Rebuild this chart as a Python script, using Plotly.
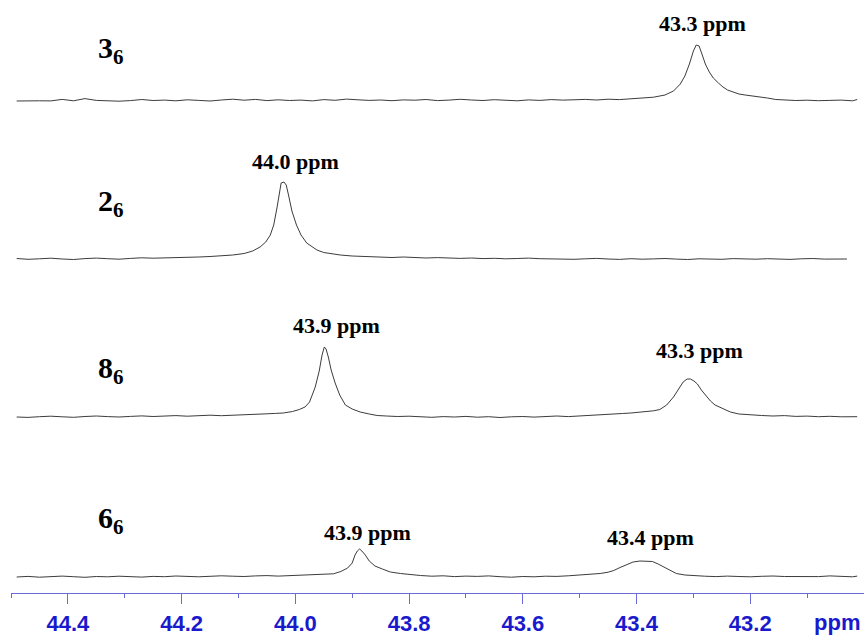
import plotly.graph_objects as go

# ---------------- data ----------------
# chemical shift axis
tick_vals = [44.4, 44.2, 44.0, 43.8, 43.6, 43.4, 43.2]
tick_text = ["44.4", "44.2", "44.0", "43.8", "43.6", "43.4", "43.2"]
minor_vals = [44.5, 44.3, 44.1, 43.9, 43.7, 43.5, 43.3, 43.1]

# spectrum 3_6
ppm_3 = [44.49, 44.47, 44.45, 44.43, 44.41, 44.39, 44.37, 44.35, 44.33, 44.31,
         44.29, 44.27, 44.25, 44.23, 44.21, 44.19, 44.17, 44.15, 44.13, 44.11,
         44.09, 44.07, 44.05, 44.03, 44.01, 43.99, 43.97, 43.95, 43.93, 43.91,
         43.89, 43.87, 43.85, 43.83, 43.81, 43.79, 43.77, 43.75, 43.73, 43.71,
         43.69, 43.67, 43.65, 43.63, 43.61, 43.59, 43.57, 43.55, 43.53, 43.51,
         43.49, 43.47, 43.45, 43.43, 43.41,
         43.39, 43.37, 43.35,
         43.335, 43.323, 43.315, 43.307, 43.300, 43.295, 43.290, 43.285, 43.279, 43.272,
         43.265, 43.256, 43.248, 43.240, 43.230, 43.220, 43.209, 43.195, 43.182, 43.170, 43.155,
         43.14, 43.12, 43.10, 43.08, 43.06, 43.04, 43.02, 43.012]
int_3 = [0.0, 0.3, 0.2, 0.1, 1.6, 0.2, 2.4, 0.6, 0.3, -0.2,
         0.4, 1.5, 0.5, 0.9, 0.2, 1.2, 0.6, 0.0, 1.0, 1.8,
         0.8, 1.6, 0.4, 1.2, 0.5, 0.9, 0.1, 1.4, 0.7, 1.9,
         1.2, 0.6, 1.0, 0.3, 1.1, 0.8, 1.5, 0.4, 0.9, 1.7,
         1.0, 0.5, 1.3, 0.8, 0.2, 1.1, 0.6, 1.4, 0.9, 1.2,
         1.6, 1.0, 1.8, 1.4, 2.2,
         3.0, 3.8, 6.0,
         10, 17, 25, 37, 50, 56, 55, 47, 37, 29,
         23, 18, 14, 11, 9, 7, 6, 5, 4.5, 3, 1.5,
         1.0, 0.5, 0.8, 0.3, 0.6, 0.9, 0.2, 1.5]

# spectrum 2_6
ppm_2 = [44.49, 44.47, 44.45, 44.43, 44.41, 44.39, 44.37, 44.35, 44.33, 44.31,
         44.29, 44.27, 44.25, 44.23, 44.21, 44.19,
         44.17, 44.15, 44.13, 44.11, 44.09, 44.075, 44.062, 44.052, 44.044, 44.038,
         44.032, 44.028, 44.025, 44.020, 44.016, 44.012, 44.006, 43.998, 43.990, 43.980,
         43.970, 43.962, 43.950, 43.935, 43.921, 43.900, 43.880, 43.863,
         43.85, 43.83, 43.81, 43.79, 43.77, 43.75, 43.73, 43.71, 43.69, 43.67,
         43.65, 43.63, 43.61, 43.59, 43.57, 43.55, 43.53, 43.51, 43.49, 43.47,
         43.45, 43.43, 43.41, 43.39, 43.37, 43.35, 43.33, 43.31, 43.29, 43.27,
         43.25, 43.23, 43.21, 43.19, 43.17, 43.15, 43.13, 43.11, 43.09, 43.07,
         43.05, 43.03]
int_2 = [0.5, -0.3, 0.2, 0.8, 0.0, -0.5, 0.4, 0.9, 0.3, -0.2,
         0.6, 1.2, 0.8, 1.0, 1.6, 1.3,
         2.0, 2.5, 3.2, 4.0, 5.5, 8.0, 12, 17, 24, 34,
         52, 66, 76, 77, 74, 64, 48, 34, 24, 16,
         12, 9, 6.5, 5, 4, 3, 2.5, 2,
         1.8, 1.5, 2.0, 1.2, 1.0, 1.4, 0.8, 0.6, 1.0, 0.4,
         0.7, 0.2, 0.5, 0.9, 0.3, 0.0, 0.4, -0.3, 0.2, 0.6,
         0.0, -0.4, 0.3, -0.2, 0.1, 0.5, -0.1, -0.5, 0.2, 0.0,
         -0.3, 0.4, 0.1, -0.2, 0.3, 0.0, -0.4, 0.2, 0.5, -0.1,
         0.3, 0.0]

# spectrum 8_6
ppm_8 = [44.49, 44.47, 44.45, 44.43, 44.41, 44.39, 44.37, 44.35, 44.33, 44.31,
         44.29, 44.27, 44.25, 44.23, 44.21, 44.19, 44.17, 44.15, 44.13, 44.11, 44.09,
         44.07, 44.05, 44.035, 44.021, 44.005, 43.993, 43.983, 43.975, 43.965, 43.958,
         43.953, 43.949, 43.946, 43.942, 43.937, 43.930, 43.922, 43.912, 43.900, 43.886,
         43.870, 43.856,
         43.84, 43.82, 43.80, 43.78, 43.76, 43.74, 43.72, 43.70, 43.68, 43.66,
         43.64, 43.62, 43.60, 43.58, 43.56, 43.54, 43.52, 43.50, 43.48, 43.46, 43.44,
         43.425, 43.41, 43.395, 43.38, 43.37, 43.359, 43.347, 43.335, 43.326, 43.318,
         43.311, 43.305, 43.299, 43.293, 43.286, 43.279, 43.270, 43.262, 43.248, 43.235,
         43.220, 43.200,
         43.18, 43.16, 43.14, 43.12, 43.10, 43.08, 43.06, 43.04, 43.02, 43.012]
int_8 = [0.0, -0.4, 0.3, 0.8, 0.2, -0.3, 0.5, 1.0, 0.4, 0.0,
         0.6, 1.1, 0.5, 0.9, 1.4, 0.8, 1.2, 1.8, 1.3, 1.6, 2.2,
         2.8, 3.2, 3.6, 4.0, 5.5, 7.5, 10, 15, 30, 46,
         62, 70, 68, 60, 47, 34, 22, 12, 8, 5,
         3, 1.5,
         1.0, 0.5, 0.8, 0.2, -0.3, 0.4, 0.0, 0.6, -0.2, 0.3,
         -0.5, 0.2, 0.5, -0.1, 0.6, 1.0, 0.4, 1.2, 1.6, 2.3, 3.0,
         3.5, 4.0, 4.8, 5.5, 6.2, 7.5, 12, 20, 28, 35,
         38, 38, 36, 33, 27, 22, 16, 12, 8, 5,
         3, 2,
         1.5, 1.0, 1.4, 0.6, 0.9, 0.3, 0.7, 0.2, 0.5, 0.3]

# spectrum 6_6
ppm_6 = [44.49, 44.47, 44.45, 44.43, 44.41, 44.39, 44.37, 44.35, 44.33, 44.31,
         44.29, 44.27, 44.25, 44.23, 44.21, 44.19, 44.17, 44.15, 44.13, 44.11,
         44.09, 44.07, 44.05, 44.03, 44.01,
         43.99, 43.97, 43.95, 43.933, 43.920, 43.908, 43.900, 43.895, 43.891, 43.887,
         43.883, 43.877, 43.870, 43.860, 43.847, 43.833, 43.815, 43.798,
         43.78, 43.76, 43.74, 43.72, 43.70, 43.68, 43.66, 43.64, 43.62, 43.60,
         43.58, 43.56, 43.54, 43.52, 43.50, 43.48,
         43.464, 43.45, 43.44, 43.429, 43.418, 43.406, 43.394, 43.381, 43.372, 43.362,
         43.352, 43.341, 43.330, 43.315, 43.300,
         43.28, 43.26, 43.24, 43.22, 43.20, 43.18, 43.16, 43.14, 43.12, 43.10,
         43.08, 43.06, 43.04, 43.02, 43.012]
int_6 = [0.0, 0.6, -0.2, 0.4, 0.9, 0.3, -0.3, 0.5, 0.2, 0.8,
         0.4, -0.1, 0.6, 0.3, 1.0, 0.5, 0.2, 0.7, 1.2, 0.8,
         0.5, 1.1, 1.4, 0.9, 1.3,
         1.4, 2.0, 2.6, 3.2, 5.5, 9, 14, 22, 26, 28,
         26, 22, 16, 11, 8, 5, 3.5, 2.2,
         1.5, 0.8, 1.2, 0.4, 0.9, 0.6, 1.1, 0.3, -0.2, 0.5,
         0.2, 0.8, 0.6, 1.2, 1.8, 2.5,
         3.5, 4.8, 6.5, 9.5, 12.5, 15, 16, 16, 15.5, 13,
         10, 6, 3.5, 2, 1.2,
         0.8, 0.4, 0.9, 0.5, 0.2, 0.7, 1.0, 0.5, 0.3, 0.8,
         0.4, 1.1, 0.6, 0.2, 0.9]

series_names = ["3<sub>6</sub>", "2<sub>6</sub>", "8<sub>6</sub>", "6<sub>6</sub>"]
series_ppm = [ppm_3, ppm_2, ppm_8, ppm_6]
series_int = [int_3, int_2, int_8, int_6]

peak_labels = ["43.3 ppm", "44.0 ppm", "43.9 ppm", "43.3 ppm", "43.9 ppm", "43.4 ppm"]
peak_ppm = [43.284, 44.000, 43.928, 43.289, 43.873, 43.375]

# ---------------- layout constants ----------------
W, H = 864, 635
ML, MB = 11, 42
PH = H - MB                       # plot height in px (y data == px from bottom)
offsets = [492, 334, 176, 16]     # vertical stacking of spectra
label_y = [543, 390, 223, 73]     # y of the series labels
peak_label_y = [570, 432, 268, 243, 61, 56]

fig = go.Figure()
for k in range(4):
    fig.add_trace(go.Scatter(
        x=series_ppm[k],
        y=[v + offsets[k] for v in series_int[k]],
        mode="lines",
        line=dict(color="#3c3c3c", width=1),
        hoverinfo="skip",
        showlegend=False,
    ))

annotations = []
for k in range(4):
    annotations.append(dict(
        x=(96 - ML) / (W - ML), xref="paper", xanchor="left",
        y=label_y[k], yref="y", yanchor="middle",
        text="<b>" + series_names[k] + "</b>", showarrow=False,
        font=dict(family="Liberation Serif, Times New Roman, serif", size=30, color="black"),
    ))
for i in range(len(peak_labels)):
    annotations.append(dict(
        x=peak_ppm[i], xref="x", xanchor="center",
        y=peak_label_y[i], yref="y", yanchor="middle",
        text="<b>" + peak_labels[i] + "</b>", showarrow=False,
        font=dict(family="Liberation Serif, Times New Roman, serif", size=22, color="black"),
    ))
annotations.append(dict(
    x=(862 - ML) / (W - ML), xref="paper", xanchor="right",
    y=-(622 - PH) / PH, yref="paper", yanchor="middle",
    text="<b>ppm</b>", showarrow=False,
    font=dict(family="Liberation Sans, Arial, sans-serif", size=22, color="#1a1acd"),
))

fig.update_layout(
    width=W, height=H,
    margin=dict(l=ML, r=0, t=0, b=MB),
    paper_bgcolor="white", plot_bgcolor="white",
    xaxis=dict(
        range=[44.5, 43.0], showgrid=False, zeroline=False,
        showline=True, linecolor="#6a6ad8", linewidth=1,
        ticks="outside", ticklen=10, tickwidth=1, tickcolor="#6a6ad8",
        tickvals=tick_vals, ticktext=tick_text,
        ticklabelstandoff=1,
        tickfont=dict(family="Liberation Sans, Arial, sans-serif", size=22,
                      color="#1a1acd", weight="bold"),
        minor=dict(tickvals=minor_vals, ticks="outside", ticklen=4,
                   tickcolor="#6a6ad8", showgrid=False),
    ),
    yaxis=dict(range=[0, PH], visible=False, showgrid=False, zeroline=False),
    annotations=annotations,
)

# remove the browser's default 8px body margin so the figure fills the window exactly
fig.write_html("out.html",
               config={"displayModeBar": False, "staticPlot": True},
               post_script="document.body.style.margin='0';document.body.style.overflow='hidden';")
